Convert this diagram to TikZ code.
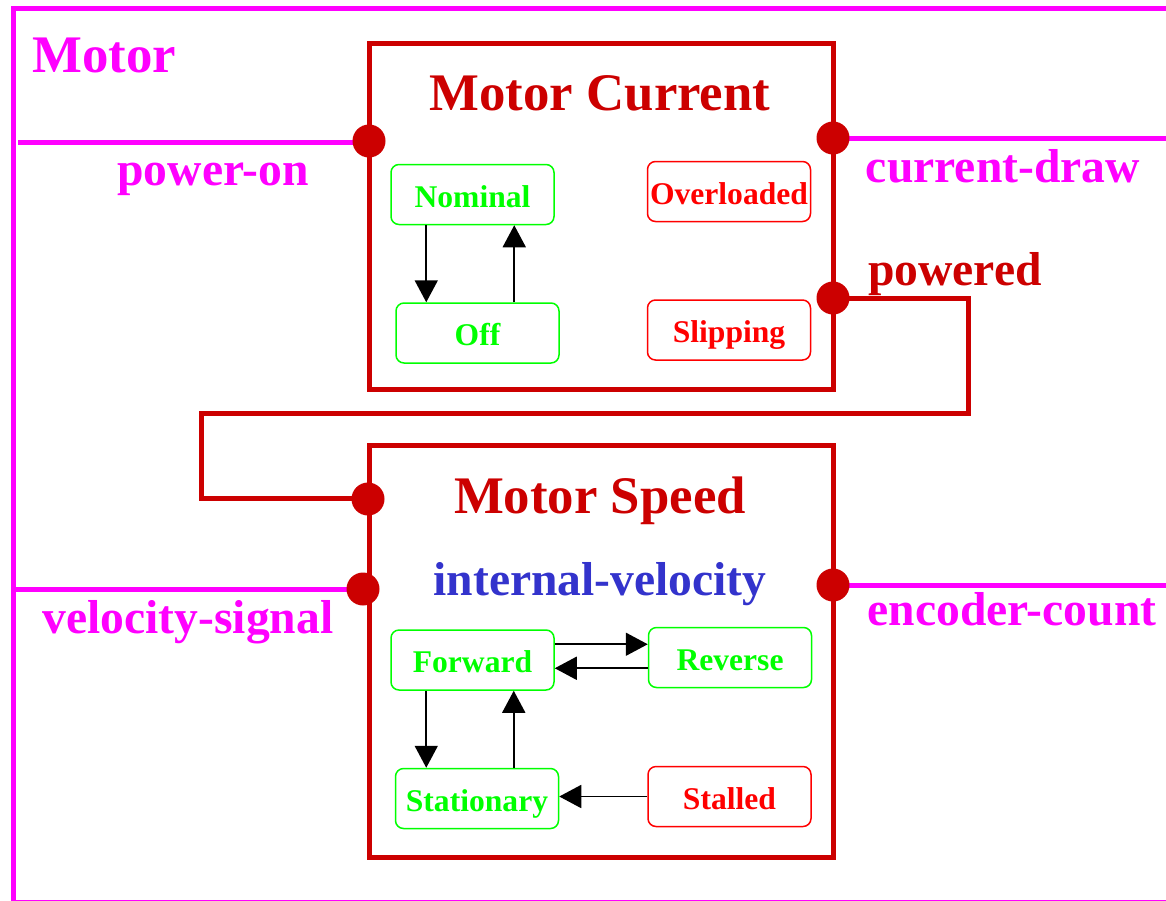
\documentclass[tikz,border=0pt]{standalone}
\usepackage{fontspec}
\setmainfont{Liberation Serif}
\usetikzlibrary{arrows.meta,positioning}
\definecolor{PortRed}{HTML}{CC0000}
\definecolor{WireMagenta}{HTML}{FF00FF}
\definecolor{StateGreen}{HTML}{00FF00}
\definecolor{StateRed}{HTML}{FF0000}
\definecolor{VarBlue}{HTML}{3333CC}

\begin{document}
\begin{tikzpicture}[x=0.5pt,y=-0.5pt,
  block/.style={rectangle,draw=PortRed,line width=2.5pt,minimum width=232pt,inner sep=0pt},
  mode/.style={rectangle,rounded corners=4pt,draw=#1,text=#1,line width=0.75pt,minimum width=81.5pt,minimum height=30pt,inner sep=0pt,text height=12.5pt,text depth=0pt,font=\fontsize{15.8}{18}\selectfont\bfseries},
  port/.style={circle,fill=PortRed,minimum size=16.5pt,inner sep=0pt},
  title/.style={text=#1,anchor=base,inner sep=0pt,font=\fontsize{26.4}{30}\selectfont\bfseries},
  wiretext/.style={text=#1,anchor=base,inner sep=0pt,font=\fontsize{23.8}{27}\selectfont\bfseries},
  wire/.style={draw=WireMagenta,line width=2.5pt},
  link/.style={draw=PortRed,line width=2.5pt},
  trans/.style={-{Triangle[length=11pt,width=11.5pt]},draw=black,line width=0.9pt}
]
\useasboundingbox (0,0) rectangle (1166,900);
\clip (0,0) rectangle (1166,900);
% outer frame
\draw[wire] (13,8) rectangle (1180,902);
\node[title=WireMagenta] (motor) at (104,72) {Motor};
% blocks
\node[block,minimum height=173pt] (current) at (601,216) {};
\node[block,minimum height=206pt] (speed) at (601,651) {};
\node[title=PortRed] (curtitle) at (600,110) {Motor Current};
\node[title=PortRed] (spdtitle) at (600,513) {Motor Speed};
\node[wiretext=VarBlue] (velvar) at (600,595) {internal-velocity};
% states
\node[mode=StateGreen] (nominal) at (472.5,194.5) {Nominal};
\node[mode=StateGreen,below=38.5pt of nominal,xshift=2.5pt] (off) {Off};
\node[mode=StateRed] (overloaded) at (729,191.5) {Overloaded};
\node[mode=StateRed,below=38.5pt of overloaded] (slipping) {Slipping};
\node[mode=StateGreen] (forward) at (472.5,660) {Forward};
\node[mode=StateGreen,right=46.5pt of forward,yshift=1.25pt] (reverse) {Reverse};
\node[mode=StateGreen,below=38.5pt of forward,xshift=2.25pt] (stationary) {Stationary};
\node[mode=StateRed,right=44pt of stationary,yshift=1pt] (stalled) {Stalled};
\draw[trans] ([xshift=18pt]nominal.south west) -- ([xshift=18pt]nominal.south west |- off.north);
\draw[trans] ([xshift=59.5pt]off.north west) -- ([xshift=59.5pt]off.north west |- nominal.south);
\draw[trans] ([yshift=-7.5pt]forward.north east) -- ([yshift=-7.5pt]forward.north east -| reverse.west);
\draw[trans] ([yshift=-19.5pt]forward.north east -| reverse.west) -- ([yshift=-19.5pt]forward.north east);
\draw[trans] ([xshift=18pt]forward.south west) -- ([xshift=18pt]forward.south west |- stationary.north);
\draw[trans] ([xshift=59.5pt]stationary.north west) -- ([xshift=59.5pt]stationary.north west |- forward.south);
\draw[trans] (stalled.west) -- (stalled.west -| stationary.east);
% wires and ports
\coordinate (pwrend) at (18,142);
\coordinate (drawend) at (1170,138);
\coordinate (velend) at (13,589);
\coordinate (encend) at (1170,585);
\draw[wire] (pwrend) -- (369,142);
\draw[wire] (833,138) -- (drawend);
\draw[wire] (velend) -- (363,589);
\draw[wire] (833,585) -- (encend);
\draw[link] (833,298) -| (968,413) -| (201,498) -- (369,498);
\node[port] (pwrin) at (369,141) {};
\node[port] (drawout) at (833,138) {};
\node[port] (powered) at (833,298) {};
\node[port] (spdin) at (368,499) {};
\node[port] (velin) at (363,589) {};
\node[port] (encout) at (833,585) {};
\node[wiretext=WireMagenta] (pwrtext) at (213,185) {power-on};
\node[wiretext=WireMagenta] (drawtext) at (1003,182) {current-draw};
\node[wiretext=PortRed] (powtext) at (955,285) {powered};
\node[wiretext=WireMagenta] (veltext) at (188,633) {velocity-signal};
\node[wiretext=WireMagenta] (enctext) at (1012,625) {encoder-count};
\end{tikzpicture}
\end{document}
